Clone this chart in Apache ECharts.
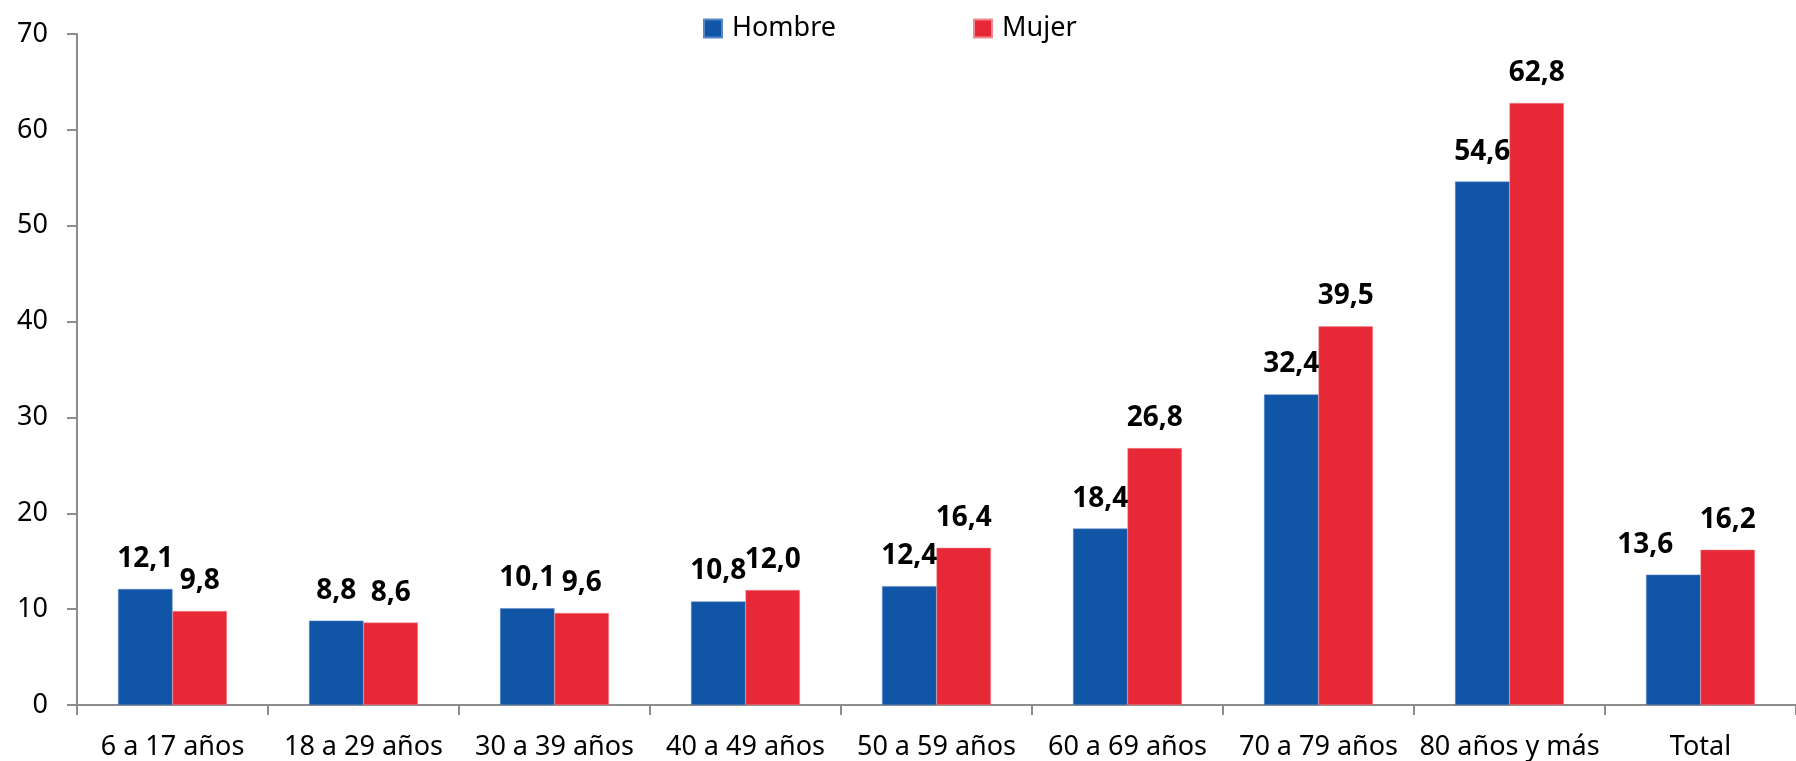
<!DOCTYPE html>
<html>
<head>
<meta charset="utf-8">
<script src="https://cdn.jsdelivr.net/npm/echarts@6/dist/echarts.min.js"></script>
<style>
  html, body { margin: 0; padding: 0; background: #fff; }
  #chart { width: 1796px; height: 761px; }
</style>
</head>
<body>
<div id="chart"></div>
<script>
// categorias de edad
var categorias = ['6 a 17 años', '18 a 29 años', '30 a 39 años', '40 a 49 años',
                  '50 a 59 años', '60 a 69 años', '70 a 79 años', '80 años y más', 'Total'];
var hombre = [12.1, 8.8, 10.1, 10.8, 12.4, 18.4, 32.4, 54.6, 13.6];
var mujer  = [9.8, 8.6, 9.6, 12.0, 16.4, 26.8, 39.5, 62.8, 16.2];
var ticksY = [0, 10, 20, 30, 40, 50, 60, 70];

var fuente = '"Noto Sans", sans-serif';
var gris = '#8c8c8c';

var chart = echarts.init(document.getElementById('chart'));

function etiqueta(v) {
    return v.toFixed(1).replace('.', ',');
}

// la etiqueta del total de hombres va corrida a la izquierda
var datosHombre = hombre.map(function (v, i) {
    if (i === hombre.length - 1) {
        return { value: v, label: { offset: [-28, 0] } };
    }
    return v;
});

var opcion = {
    animation: false,
    textStyle: { fontFamily: fuente },
    legend: {
        top: 10,
        left: 698,
        itemWidth: 18,
        itemHeight: 18,
        itemGap: 137,
        icon: 'rect',
        textStyle: { fontSize: 27, color: '#000', fontFamily: fuente, padding: [0, 0, 0, 5] },
        data: ['Hombre', 'Mujer']
    },
    grid: {
        left: 77,
        top: 34,
        width: 1728,
        height: 673,
        containLabel: false
    },
    xAxis: {
        type: 'category',
        data: categorias,
        axisLine: { lineStyle: { color: gris, width: 2 } },
        axisTick: { show: true, length: 10, lineStyle: { color: gris, width: 2 } },
        axisLabel: { color: '#000', fontSize: 27, margin: 29, fontFamily: fuente, interval: 0 }
    },
    yAxis: {
        type: 'value',
        min: ticksY[0],
        max: ticksY[ticksY.length - 1],
        interval: 10,
        axisLine: { show: true, lineStyle: { color: gris, width: 2 } },
        axisTick: { show: true, length: 10, lineStyle: { color: gris, width: 2 } },
        splitLine: { show: false },
        axisLabel: { color: '#000', fontSize: 27, margin: 29, fontFamily: fuente }
    },
    series: [
        {
            name: 'Hombre',
            type: 'bar',
            barGap: '0%',
            barCategoryGap: '43%',
            itemStyle: { color: '#1155a6', borderColor: '#5a86c4', borderWidth: 0.5 },
            label: {
                show: true,
                position: 'top',
                distance: 16,
                color: '#000',
                fontSize: 28,
                fontWeight: 'bold',
                fontFamily: fuente,
                formatter: function (p) { return etiqueta(p.value); }
            },
            data: datosHombre
        },
        {
            name: 'Mujer',
            type: 'bar',
            itemStyle: { color: '#e72837', borderColor: '#f08a93', borderWidth: 0.5 },
            label: {
                show: true,
                position: 'top',
                distance: 16,
                color: '#000',
                fontSize: 28,
                fontWeight: 'bold',
                fontFamily: fuente,
                formatter: function (p) { return etiqueta(p.value); }
            },
            data: mujer
        }
    ]
};

chart.setOption(opcion);
</script>
</body>
</html>
